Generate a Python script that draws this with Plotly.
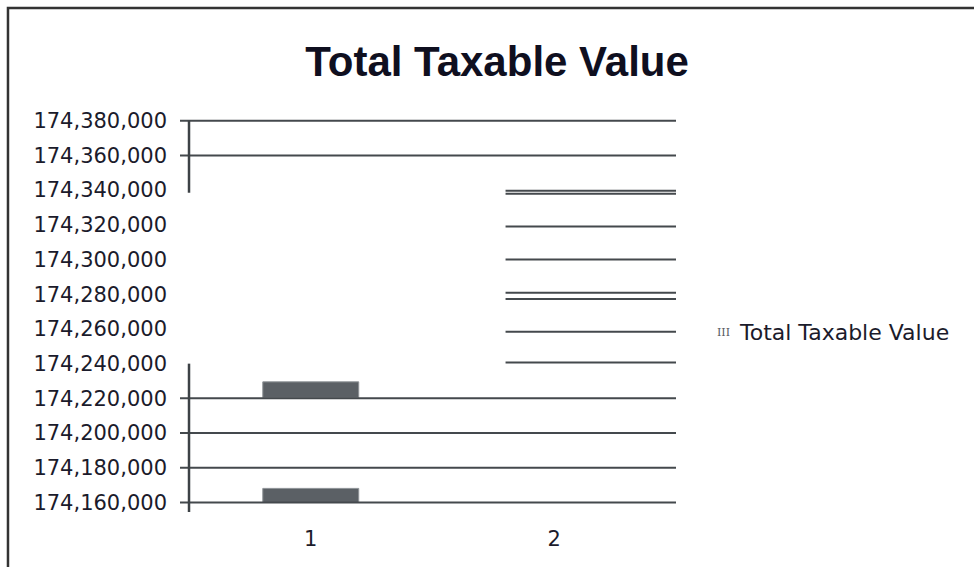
import plotly.graph_objects as go

# ---------------- data ----------------
categories = [1, 2]
category_labels = ["1", "2"]
y_tick_values = [174160000, 174180000, 174200000, 174220000, 174240000, 174260000,
                 174280000, 174300000, 174320000, 174340000, 174360000, 174380000]
y_tick_labels = [f"{v:,}" for v in y_tick_values]

# category 1: visible bar pieces (base, height)
bar1_bases = [174160000, 174220500]
bar1_heights = [8100, 9000]

# horizontal rules spanning the whole plot
full_rule_values = [174380000, 174360000, 174220000, 174200000, 174180000, 174160000]
# horizontal rules visible only over category 2
cat2_rule_values = [174339700, 174337900, 174319000, 174300000,
                    174280800, 174277300, 174258400, 174240600]
# visible pieces of the value axis line (top, bottom)
axis_segments = [(174380000, 174338500), (174240000, 174154500)]

series_name = "Total Taxable Value"
title_text = "Total Taxable Value"

# ---------------- style ----------------
X0, X1 = 0.463, 2.5          # x range (includes tick stub area on the left)
AXIS_X = 0.5
CAT2_START = 1.8
Y0, Y1 = 174154500, 174381000
LINE_COLOR = "#44494d"
BAR_COLOR = "#5b6065"
TEXT_COLOR = "#1b1b2b"

fig = go.Figure()

# full rules (with tick stubs to the left of the axis)
gx, gy = [], []
for v in full_rule_values:
    gx += [X0, X1, None]
    gy += [v, v, None]
fig.add_trace(go.Scatter(x=gx, y=gy, mode="lines", hoverinfo="skip",
                         line=dict(color=LINE_COLOR, width=2), showlegend=False))

# category-2 rules
cx, cy = [], []
for v in cat2_rule_values:
    cx += [CAT2_START, X1, None]
    cy += [v, v, None]
fig.add_trace(go.Scatter(x=cx, y=cy, mode="lines", hoverinfo="skip",
                         line=dict(color=LINE_COLOR, width=2), showlegend=False))

# axis line pieces
ax, ay = [], []
for top, bot in axis_segments:
    ax += [AXIS_X, AXIS_X, None]
    ay += [top, bot, None]
fig.add_trace(go.Scatter(x=ax, y=ay, mode="lines", hoverinfo="skip",
                         line=dict(color="#3d4246", width=2.5), showlegend=False))

# category-1 bar pieces
fig.add_trace(go.Bar(x=[categories[0]] * len(bar1_bases), y=bar1_heights, base=bar1_bases,
                     width=0.394, name=series_name,
                     marker=dict(color=BAR_COLOR, line=dict(color="#8d9296", width=1)),
                     showlegend=False))

fig.update_layout(
    width=974, height=567,
    margin=dict(l=180, r=298, t=119, b=55),
    paper_bgcolor="white", plot_bgcolor="white",
    barmode="overlay",
    showlegend=False,
    title=dict(text=title_text, x=0.5103, xref="container", xanchor="center",
               y=0.892, yref="container", yanchor="middle",
               font=dict(family="Liberation Sans", size=42, color="#0f0f1f", weight="bold")),
    xaxis=dict(range=[X0, X1], tickvals=categories, ticktext=category_labels,
               showgrid=False, zeroline=False, showline=False, ticks="",
               ticklabelstandoff=12,
               tickfont=dict(family="DejaVu Sans", size=21, color=TEXT_COLOR)),
    yaxis=dict(range=[Y0, Y1], tickvals=y_tick_values, ticktext=y_tick_labels,
               showgrid=False, zeroline=False, showline=False, ticks="",
               ticklabelstandoff=12,
               tickfont=dict(family="DejaVu Sans", size=21, color=TEXT_COLOR)),
)

# legend (symbol + text)
fig.add_annotation(xref="paper", yref="paper", x=1.0786, y=0.4577, xanchor="left",
                   yanchor="middle", showarrow=False, text="III",
                   font=dict(family="DejaVu Serif", size=11, color="#55595d"))
fig.add_annotation(xref="paper", yref="paper", x=1.123, y=0.4577, xanchor="left",
                   yanchor="middle", showarrow=False, text=series_name,
                   font=dict(family="DejaVu Sans", size=22, color=TEXT_COLOR))

# outer frame
fig.add_shape(type="rect", xref="paper", yref="paper",
              x0=-0.3468, y0=-0.2, x1=1.7, y1=1.2826,
              line=dict(color="#333333", width=2.5), fillcolor="rgba(0,0,0,0)", layer="above")

fig.write_html("out.html")
